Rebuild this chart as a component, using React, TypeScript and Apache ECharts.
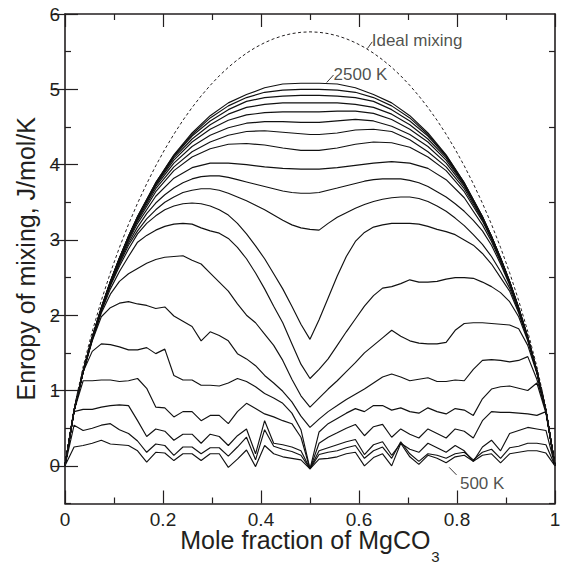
import React, { useEffect, useRef } from 'react';
import * as echarts from 'echarts';

const FONT = '"Liberation Sans", Arial, Helvetica, sans-serif';
const INK = '#231f20';

// composition grid (k/54)
const X_FULL = [0, 0.0185, 0.037, 0.0556, 0.0741, 0.0926, 0.1111, 0.1296, 0.1481, 0.1667, 0.1852, 0.2037, 0.2222, 0.2407, 0.2593, 0.2778, 0.2963, 0.3148, 0.3333, 0.3519, 0.3704, 0.3889, 0.4074, 0.4259, 0.4444, 0.463, 0.4815, 0.5, 0.5185, 0.537, 0.5556, 0.5741, 0.5926, 0.6111, 0.6296, 0.6481, 0.6667, 0.6852, 0.7037, 0.7222, 0.7407, 0.7593, 0.7778, 0.7963, 0.8148, 0.8333, 0.8519, 0.8704, 0.8889, 0.9074, 0.9259, 0.9444, 0.963, 0.9815, 1];
const X_SMOOTH = [0, 0.0185, 0.037, 0.0556, 0.0741, 0.0926, 0.1111, 0.1296, 0.1481, 0.1852, 0.2222, 0.2593, 0.2963, 0.3333, 0.3704, 0.4074, 0.4444, 0.4815, 0.5, 0.5185, 0.5556, 0.5926, 0.6296, 0.6667, 0.7037, 0.7407, 0.7778, 0.8148, 0.8519, 0.8704, 0.8889, 0.9074, 0.9259, 0.9444, 0.963, 0.9815, 1];

const IDEAL = [0, 0.767, 1.317, 1.784, 2.195, 2.565, 2.9, 3.207, 3.488, 3.746, 3.984, 4.203, 4.404, 4.589, 4.758, 4.912, 5.052, 5.179, 5.292, 5.392, 5.48, 5.556, 5.619, 5.671, 5.711, 5.74, 5.757, 5.763, 5.757, 5.74, 5.711, 5.671, 5.619, 5.556, 5.48, 5.392, 5.292, 5.179, 5.052, 4.912, 4.758, 4.589, 4.404, 4.203, 3.984, 3.746, 3.488, 3.207, 2.9, 2.565, 2.195, 1.784, 1.317, 0.767, 0];

// low-temperature curves (full grid)
const C01 = [0, 0.25, 0.27, 0.30, 0.34, 0.29, 0.28, 0.27, 0.20, 0.05, 0.18, 0.17, 0.07, 0.16, 0.16, 0.07, 0.16, 0.16, -0.02, 0.09, 0.21, -0.01, 0.27, 0.16, 0.12, 0.10, 0.08, -0.04, 0.09, 0.10, 0.12, 0.16, 0.18, 0.00, 0.11, 0.16, 0.00, 0.30, 0.12, 0.02, 0.14, 0.10, 0.04, 0.12, 0.14, 0.06, 0.14, 0.16, 0.04, 0.16, 0.18, 0.20, 0.20, 0.17, 0];
const C02 = [0, 0.54, 0.47, 0.50, 0.54, 0.56, 0.48, 0.43, 0.33, 0.18, 0.29, 0.27, 0.14, 0.25, 0.25, 0.16, 0.24, 0.24, 0.13, 0.25, 0.38, 0.08, 0.48, 0.26, 0.22, 0.19, 0.14, -0.04, 0.15, 0.18, 0.20, 0.24, 0.27, 0.10, 0.20, 0.25, 0.10, 0.32, 0.16, 0.06, 0.16, 0.14, 0.10, 0.16, 0.18, 0.08, 0.18, 0.22, 0.10, 0.24, 0.26, 0.30, 0.30, 0.28, 0];
const C03 = [0, 0.72, 0.75, 0.75, 0.78, 0.80, 0.81, 0.80, 0.60, 0.39, 0.49, 0.46, 0.34, 0.42, 0.42, 0.30, 0.42, 0.39, 0.27, 0.40, 0.49, 0.16, 0.60, 0.30, 0.28, 0.25, 0.20, -0.04, 0.20, 0.24, 0.28, 0.32, 0.35, 0.15, 0.28, 0.32, 0.14, 0.30, 0.22, 0.18, 0.30, 0.24, 0.18, 0.27, 0.20, 0.06, 0.25, 0.34, 0.20, 0.43, 0.47, 0.51, 0.49, 0.47, 0];
const C04 = [0, 0.73, 1.13, 1.13, 1.14, 1.14, 1.12, 1.13, 1.16, 1.03, 0.78, 0.77, 0.65, 0.72, 0.72, 0.60, 0.67, 0.67, 0.56, 0.72, 0.83, 0.76, 0.69, 0.65, 0.60, 0.56, 0.38, -0.04, 0.30, 0.38, 0.44, 0.50, 0.55, 0.40, 0.52, 0.55, 0.38, 0.49, 0.42, 0.37, 0.49, 0.43, 0.37, 0.49, 0.46, 0.37, 0.60, 0.72, 0.71, 0.71, 0.70, 0.69, 0.67, 0.72, 0];
const C05 = [0, 0.74, 1.25, 1.52, 1.62, 1.61, 1.58, 1.54, 1.54, 1.57, 1.49, 1.55, 1.20, 1.14, 1.14, 1.07, 1.07, 1.06, 1.10, 1.16, 1.12, 1.05, 0.96, 0.90, 0.83, 0.70, 0.48, -0.04, 0.45, 0.56, 0.63, 0.70, 0.76, 0.72, 0.80, 0.80, 0.74, 0.77, 0.72, 0.70, 0.77, 0.72, 0.69, 0.76, 0.74, 0.67, 0.89, 1.02, 1.05, 1.06, 1.03, 1.00, 1.10, 0.70, 0];
const C06 = [0, 0.73, 1.24, 1.66, 1.98, 2.10, 2.16, 2.18, 2.15, 2.13, 2.09, 2.11, 1.99, 1.92, 1.85, 1.66, 1.78, 1.73, 1.66, 1.49, 1.42, 1.33, 1.20, 1.10, 0.99, 0.85, 0.66, 0.51, 0.62, 0.72, 0.80, 0.88, 0.95, 1.02, 1.10, 1.18, 1.22, 1.18, 1.13, 1.15, 1.17, 1.12, 1.12, 1.14, 1.13, 1.28, 1.40, 1.41, 1.40, 1.38, 1.40, 1.45, 1.15, 0.73, 0];
const C07 = [0, 0.73, 1.24, 1.67, 2.03, 2.28, 2.45, 2.55, 2.62, 2.69, 2.74, 2.77, 2.78, 2.79, 2.73, 2.68, 2.56, 2.44, 2.32, 2.15, 2.00, 1.90, 1.75, 1.60, 1.40, 1.15, 0.93, 0.78, 0.90, 1.02, 1.13, 1.25, 1.37, 1.50, 1.60, 1.70, 1.80, 1.72, 1.66, 1.63, 1.62, 1.62, 1.64, 1.80, 1.89, 1.90, 1.90, 1.89, 1.88, 1.87, 1.82, 1.60, 1.23, 0.73, 0];
const C08 = [0, 0.73, 1.25, 1.68, 2.05, 2.35, 2.58, 2.78, 2.97, 3.06, 3.13, 3.18, 3.21, 3.22, 3.21, 3.16, 3.12, 3.09, 3.02, 2.90, 2.75, 2.56, 2.35, 2.12, 1.90, 1.62, 1.35, 1.16, 1.28, 1.42, 1.60, 1.78, 1.95, 2.12, 2.26, 2.36, 2.38, 2.42, 2.47, 2.44, 2.44, 2.45, 2.48, 2.50, 2.50, 2.49, 2.44, 2.38, 2.30, 2.18, 1.98, 1.66, 1.24, 0.73, 0];
const C09 = [0, 0.73, 1.25, 1.69, 2.07, 2.39, 2.65, 2.88, 3.08, 3.22, 3.32, 3.40, 3.45, 3.48, 3.49, 3.48, 3.45, 3.40, 3.33, 3.22, 3.08, 2.92, 2.75, 2.55, 2.35, 2.12, 1.88, 1.68, 1.94, 2.23, 2.52, 2.78, 2.98, 3.10, 3.17, 3.20, 3.22, 3.22, 3.22, 3.21, 3.18, 3.14, 3.11, 3.07, 3.00, 2.93, 2.82, 2.68, 2.50, 2.32, 2.03, 1.68, 1.25, 0.73, 0];
const C10 = [0, 0.73, 1.25, 1.69, 2.07, 2.40, 2.68, 2.93, 3.12, 3.28, 3.40, 3.50, 3.57, 3.63, 3.66, 3.68, 3.68, 3.66, 3.62, 3.57, 3.52, 3.46, 3.40, 3.33, 3.26, 3.20, 3.16, 3.14, 3.13, 3.22, 3.30, 3.36, 3.42, 3.47, 3.51, 3.54, 3.56, 3.57, 3.57, 3.55, 3.51, 3.45, 3.38, 3.29, 3.19, 3.07, 2.94, 2.78, 2.58, 2.36, 2.05, 1.69, 1.25, 0.73, 0];
const C11 = [0, 0.73, 1.25, 1.69, 2.07, 2.41, 2.70, 2.96, 3.17, 3.35, 3.49, 3.60, 3.69, 3.76, 3.81, 3.84, 3.85, 3.85, 3.83, 3.80, 3.77, 3.74, 3.71, 3.68, 3.65, 3.63, 3.62, 3.62, 3.63, 3.66, 3.69, 3.72, 3.75, 3.78, 3.80, 3.81, 3.81, 3.81, 3.79, 3.76, 3.71, 3.64, 3.57, 3.48, 3.38, 3.26, 3.12, 2.93, 2.68, 2.40, 2.07, 1.69, 1.25, 0.73, 0];

// high-temperature curves (coarser grid)
const C12 = [0, 0.73, 1.25, 1.70, 2.08, 2.42, 2.72, 2.99, 3.22, 3.58, 3.82, 3.96, 4.02, 4.02, 4.00, 3.97, 3.95, 3.94, 3.94, 3.94, 3.96, 3.99, 4.02, 4.04, 4.02, 3.95, 3.80, 3.56, 3.20, 2.98, 2.71, 2.42, 2.08, 1.70, 1.25, 0.73, 0];
const C13 = [0, 0.73, 1.25, 1.70, 2.08, 2.43, 2.73, 3.01, 3.25, 3.64, 3.92, 4.10, 4.21, 4.27, 4.28, 4.26, 4.22, 4.19, 4.19, 4.19, 4.22, 4.27, 4.30, 4.29, 4.23, 4.10, 3.92, 3.64, 3.25, 3.01, 2.73, 2.43, 2.08, 1.70, 1.25, 0.73, 0];
const C14 = [0, 0.73, 1.25, 1.70, 2.08, 2.43, 2.74, 3.02, 3.27, 3.68, 3.97, 4.17, 4.30, 4.39, 4.44, 4.45, 4.43, 4.41, 4.40, 4.40, 4.42, 4.46, 4.47, 4.44, 4.33, 4.17, 3.97, 3.68, 3.27, 3.02, 2.74, 2.43, 2.08, 1.70, 1.25, 0.73, 0];
const C15 = [0, 0.73, 1.25, 1.70, 2.08, 2.44, 2.75, 3.03, 3.29, 3.71, 4.02, 4.24, 4.39, 4.49, 4.55, 4.57, 4.57, 4.56, 4.56, 4.56, 4.58, 4.60, 4.58, 4.51, 4.40, 4.24, 4.02, 3.71, 3.29, 3.03, 2.75, 2.44, 2.08, 1.70, 1.25, 0.73, 0];
const C16 = [0, 0.73, 1.25, 1.70, 2.09, 2.44, 2.75, 3.04, 3.29, 3.73, 4.06, 4.30, 4.47, 4.59, 4.66, 4.69, 4.70, 4.70, 4.70, 4.70, 4.71, 4.71, 4.68, 4.60, 4.47, 4.30, 4.06, 3.73, 3.29, 3.04, 2.75, 2.44, 2.09, 1.70, 1.25, 0.73, 0];
const C17 = [0, 0.74, 1.26, 1.70, 2.09, 2.44, 2.75, 3.04, 3.30, 3.74, 4.09, 4.34, 4.53, 4.67, 4.76, 4.80, 4.82, 4.82, 4.82, 4.82, 4.82, 4.80, 4.76, 4.67, 4.53, 4.34, 4.09, 3.74, 3.30, 3.04, 2.75, 2.44, 2.09, 1.70, 1.26, 0.74, 0];
const C18 = [0, 0.74, 1.26, 1.71, 2.10, 2.45, 2.76, 3.05, 3.30, 3.75, 4.11, 4.38, 4.58, 4.73, 4.84, 4.89, 4.91, 4.92, 4.92, 4.92, 4.91, 4.89, 4.84, 4.73, 4.58, 4.38, 4.11, 3.75, 3.30, 3.05, 2.76, 2.45, 2.10, 1.71, 1.26, 0.74, 0];
const C19 = [0, 0.74, 1.26, 1.71, 2.10, 2.45, 2.76, 3.05, 3.31, 3.76, 4.12, 4.40, 4.62, 4.78, 4.89, 4.96, 4.99, 5.00, 5.00, 5.00, 4.99, 4.96, 4.89, 4.78, 4.62, 4.40, 4.12, 3.76, 3.31, 3.05, 2.76, 2.45, 2.10, 1.71, 1.26, 0.74, 0];
const C20 = [0, 0.74, 1.26, 1.71, 2.10, 2.45, 2.76, 3.05, 3.31, 3.76, 4.13, 4.42, 4.65, 4.82, 4.93, 5.02, 5.07, 5.08, 5.08, 5.08, 5.07, 5.02, 4.93, 4.82, 4.65, 4.42, 4.13, 3.76, 3.31, 3.05, 2.76, 2.45, 2.10, 1.71, 1.26, 0.74, 0];

const CURVES_FULL = [C01, C02, C03, C04, C05, C06, C07, C08, C09, C10, C11];
const CURVES_SMOOTH = [C12, C13, C14, C15, C16, C17, C18, C19, C20];

const X_TICKS = [0, 0.2, 0.4, 0.6, 0.8, 1];
const Y_TICKS = [0, 1, 2, 3, 4, 5, 6];
const Y_MINOR = [-0.5, 0.5, 1.5, 2.5, 3.5, 4.5, 5.5];

// annotations (data coordinates)
const LABEL_TEXT = ['Ideal mixing', '2500 K', '500 K'];
const LABEL_X = [0.626, 0.548, 0.806];
const LABEL_Y = [5.65, 5.2, -0.23];
const LEADERS = [
  [[0.617, 5.54], [0.627, 5.63]],
  [[0.534, 5.09], [0.548, 5.19]],
  [[0.784, -0.02], [0.799, -0.12]],
];

const pairs = (xs: number[], ys: number[]) => xs.map((x, i) => [x, ys[i]]);

const lineSeries = (xs: number[], ys: number[]) => ({
  type: 'line',
  data: pairs(xs, ys),
  symbol: 'none',
  silent: true,
  lineStyle: { color: '#111111', width: 1.15 },
  z: 3,
});

const axisLineStyle = { color: INK, width: 1.6 };
const tickStyle = { color: INK, width: 1.2 };

export default function App() {
  const ref = useRef<HTMLDivElement>(null);
  useEffect(() => {
    const chart = echarts.init(ref.current!, null, { renderer: 'svg' });
    const series: any[] = [];
    CURVES_FULL.forEach((c) => series.push(lineSeries(X_FULL, c)));
    CURVES_SMOOTH.forEach((c) => series.push(lineSeries(X_SMOOTH, c)));
    series.push({
      type: 'line',
      data: pairs(X_FULL, IDEAL),
      symbol: 'none',
      silent: true,
      lineStyle: { color: INK, width: 1, type: [3, 2.5] },
      z: 3,
    });
    LEADERS.forEach((seg) =>
      series.push({
        type: 'line',
        data: seg,
        symbol: 'none',
        silent: true,
        lineStyle: { color: INK, width: 0.9 },
        z: 4,
      })
    );
    series.push({
      type: 'scatter',
      symbolSize: 0,
      silent: true,
      data: LABEL_TEXT.map((t, i) => ({
        value: [LABEL_X[i], LABEL_Y[i]],
        label: { formatter: t },
      })),
      label: {
        show: true,
        position: 'right',
        distance: 0,
        color: INK,
        fontSize: 17,
        fontFamily: FONT,
      },
      z: 5,
    });

    const baseY = {
      type: 'value',
      min: -0.5,
      max: 6,
      interval: 0.5,
      splitLine: { show: false },
    };

    chart.setOption({
      animation: false,
      backgroundColor: '#ffffff',
      grid: { left: 65, right: 12, top: 14, bottom: 59.5, containLabel: false, outerBoundsMode: 'none' },
      xAxis: [
        {
          type: 'value',
          position: 'bottom',
          min: 0,
          max: 1,
          interval: 0.2,
          axisLine: { show: true, onZero: false, lineStyle: axisLineStyle },
          axisTick: { show: true, inside: true, length: 13, lineStyle: tickStyle },
          minorTick: { show: true, splitNumber: 2, length: 6, lineStyle: tickStyle },
          splitLine: { show: false },
          minorSplitLine: { show: false },
          axisLabel: {
            color: INK,
            fontSize: 19,
            fontFamily: FONT,
            margin: 6,
            customValues: X_TICKS,
            formatter: (v: number) => String(Math.round(v * 10) / 10),
          },
          name: '{a|Mole fraction of MgCO}{b|3}',
          nameLocation: 'middle',
          nameGap: 28,
          nameMoveOverlap: false,
          nameTextStyle: {
            rich: {
              a: { fontSize: 25, fontFamily: FONT, color: INK, lineHeight: 28, padding: [0, 0, 12, 0] },
              b: { fontSize: 15, fontFamily: FONT, color: INK, lineHeight: 15, padding: [23, 0, 2, 1] },
            },
          },
        },
        {
          type: 'value',
          position: 'top',
          min: 0,
          max: 1,
          interval: 0.2,
          axisLine: { show: true, onZero: false, lineStyle: axisLineStyle },
          axisTick: { show: true, inside: true, length: 13, lineStyle: tickStyle },
          minorTick: { show: true, splitNumber: 2, length: 6, lineStyle: tickStyle },
          splitLine: { show: false },
          axisLabel: { show: false },
        },
      ],
      yAxis: [
        {
          ...baseY,
          position: 'left',
          axisLine: { show: true, onZero: false, lineStyle: axisLineStyle },
          axisTick: { show: true, inside: true, length: 6, lineStyle: tickStyle, customValues: Y_MINOR },
          axisLabel: {
            color: INK,
            fontSize: 19,
            fontFamily: FONT,
            margin: 5,
            customValues: Y_TICKS,
            formatter: (v: number) => String(Math.round(v)),
          },
          name: 'Enropy of mixing, J/mol/K',
          nameLocation: 'middle',
          nameGap: 24,
          nameTextStyle: { fontSize: 25, fontFamily: FONT, color: INK },
        },
        {
          ...baseY,
          position: 'left',
          axisLine: { show: false },
          axisTick: { show: true, inside: true, length: 13, lineStyle: tickStyle, customValues: Y_TICKS },
          axisLabel: { show: false },
        },
        {
          ...baseY,
          position: 'right',
          axisLine: { show: true, onZero: false, lineStyle: axisLineStyle },
          axisTick: { show: true, inside: true, length: 6, lineStyle: tickStyle, customValues: Y_MINOR },
          axisLabel: { show: false },
        },
        {
          ...baseY,
          position: 'right',
          axisLine: { show: false },
          axisTick: { show: true, inside: true, length: 13, lineStyle: tickStyle, customValues: Y_TICKS },
          axisLabel: { show: false },
        },
      ],
      series,
    });
    return () => chart.dispose();
  }, []);
  return (
    <div
      ref={ref}
      style={{ position: 'fixed', left: 0, top: 0, width: 567, height: 563, background: '#fff' }}
    />
  );
}
